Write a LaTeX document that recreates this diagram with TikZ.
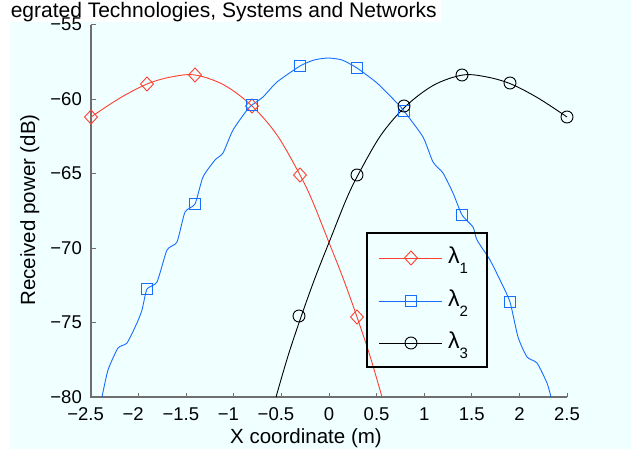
\documentclass[tikz,border=0pt]{standalone}
\usepackage{fontspec}
\setmainfont{Liberation Sans}
\definecolor{bgc}{RGB}{240,255,255}
\definecolor{rc}{RGB}{255,64,48}
\definecolor{bc}{RGB}{24,108,255}
\definecolor{axc}{RGB}{110,110,110}
\begin{document}
\begin{tikzpicture}[x=1pt,y=-1pt,
  curve/.style={line width=0.9pt},
  axisline/.style={draw=axc, line width=1.3pt},
  tickmark/.style={draw=axc, line width=1pt},
  ticklabel/.style={font=\fontsize{18.5}{18.5}\selectfont, inner sep=0pt},
  axlabel/.style={font=\fontsize{20.5}{20.5}\selectfont, inner sep=0pt},
  leglabel/.style={font=\fontsize{23}{23}\selectfont, inner sep=0pt, anchor=base west},
  dmd/.pic={\draw[rc, line width=0.9pt] (0,-7)--(6.5,0)--(0,7)--(-6.5,0)--cycle;},
  sqr/.pic={\draw[bc, line width=0.9pt] (-5.2,-5.2) rectangle (5.2,5.2);},
  circ/.pic={\draw[black, line width=0.9pt] (0,0) circle[radius=6pt];}]
\useasboundingbox (0,0) rectangle (631,454);
\fill[white] (0,0) rectangle (631,454);
\fill[bgc] (10,22) rectangle (631,449);
\fill[bgc] (441,0) rectangle (631,22);

% title
\node[font=\fontsize{21}{21}\selectfont, inner sep=0pt, anchor=base east] (title) at (437,18) {egrated Technologies, Systems and Networks};

% axes
\coordinate (ytop) at (91,24.6);
\coordinate (orig) at (91,397);
\coordinate (xend) at (567,397);
\draw[axisline] (ytop) -- (orig) -- (xend);
\foreach \i/\l in {0/{\llap{−}2.5},1/{\llap{−}2},2/{\llap{−}1.5},3/{\llap{−}1},4/{\llap{−}0.5},5/0,6/0.5,7/1,8/1.5,9/2,10/2.5}{
  \draw[tickmark] ({91+47.6*\i},397) -- ({91+47.6*\i},392.5);
  \node[ticklabel, anchor=base] (xl\i) at ({91+47.6*\i},420) {\l};
}
\foreach \i/\l in {0/−55,1/−60,2/−65,3/−70,4/−75,5/−80}{
  \draw[tickmark] (91,{24.6+74.48*\i}) -- (96,{24.6+74.48*\i});
  \node[ticklabel, anchor=base east] (yl\i) at (82,{31+74.48*\i}) {\l};
}
\node[axlabel, anchor=base] (xlab) at (306,443) {X coordinate (m)};
\node[axlabel, anchor=base, rotate=90] (ylab) at (35,210) {Received power (dB)};

% curves
\draw[rc, curve] plot[smooth, tension=0.55] coordinates {(91,117) (120,98) (147,84) (171,77) (195,75) (224,85) (252,106) (277,135) (300,175) (312,200) (328,240) (343,278) (357,317) (370,356) (382,397)};
\draw[black, curve] plot[smooth, tension=0.55] coordinates {(567,117) (538,98) (511,84) (487,77) (463,75) (434,85) (406,106) (381,135) (358,175) (346,200) (330,240) (315,278) (301,317) (288,356) (276,397)};
\draw[bc, curve] plot[smooth, tension=0.35] coordinates {(102,397) (108,370) (118,348) (127,343) (137,323) (142,310) (147,289) (157,282) (167,250) (177,242) (185,212) (195,204) (203,177) (215,160) (223,153) (233,130) (247,110) (252,105) (263,97) (277,82) (300,66) (314,60) (328,58) (342,60) (357,68) (377,83) (397,103) (404,111) (423,137) (433,162) (443,173) (453,193) (462,215) (473,227) (477,240) (490,260) (500,280) (510,302) (518,337) (527,357) (537,363) (547,383) (551,397)};

% markers
\foreach \p in {(91,117),(147,84),(195,75),(252,106),(300,175),(357,317)} \pic at \p {dmd};
\foreach \p in {(147,289),(195,204),(252,105),(300,66),(357,68),(404,111),(462,215),(510,302)} \pic at \p {sqr};
\foreach \p in {(299,316),(357,175),(404,106),(462,75),(510,83),(567,117)} \pic at \p {circ};

% legend
\node[draw=black, line width=1.2pt, minimum width=120pt, minimum height=134pt, inner sep=0pt] (legend) at (427,300) {};
\coordinate (l1a) at (379,258); \coordinate (l1b) at (442,258);
\coordinate (l2a) at (379,301); \coordinate (l2b) at (442,301);
\coordinate (l3a) at (379,343); \coordinate (l3b) at (442,343);
\draw[rc, curve] (l1a) -- (l1b);
\draw[bc, curve] (l2a) -- (l2b);
\draw[black, curve] (l3a) -- (l3b);
\pic at (411,258) {dmd};
\pic at (411,301) {sqr};
\pic at (411,343) {circ};
\node[leglabel] (lam1) at (448,263) {λ\raisebox{-10pt}{\fontsize{15}{15}\selectfont 1}};
\node[leglabel] (lam2) at (448,306) {λ\raisebox{-10pt}{\fontsize{15}{15}\selectfont 2}};
\node[leglabel] (lam3) at (448,348) {λ\raisebox{-10pt}{\fontsize{15}{15}\selectfont 3}};
\end{tikzpicture}
\end{document}
